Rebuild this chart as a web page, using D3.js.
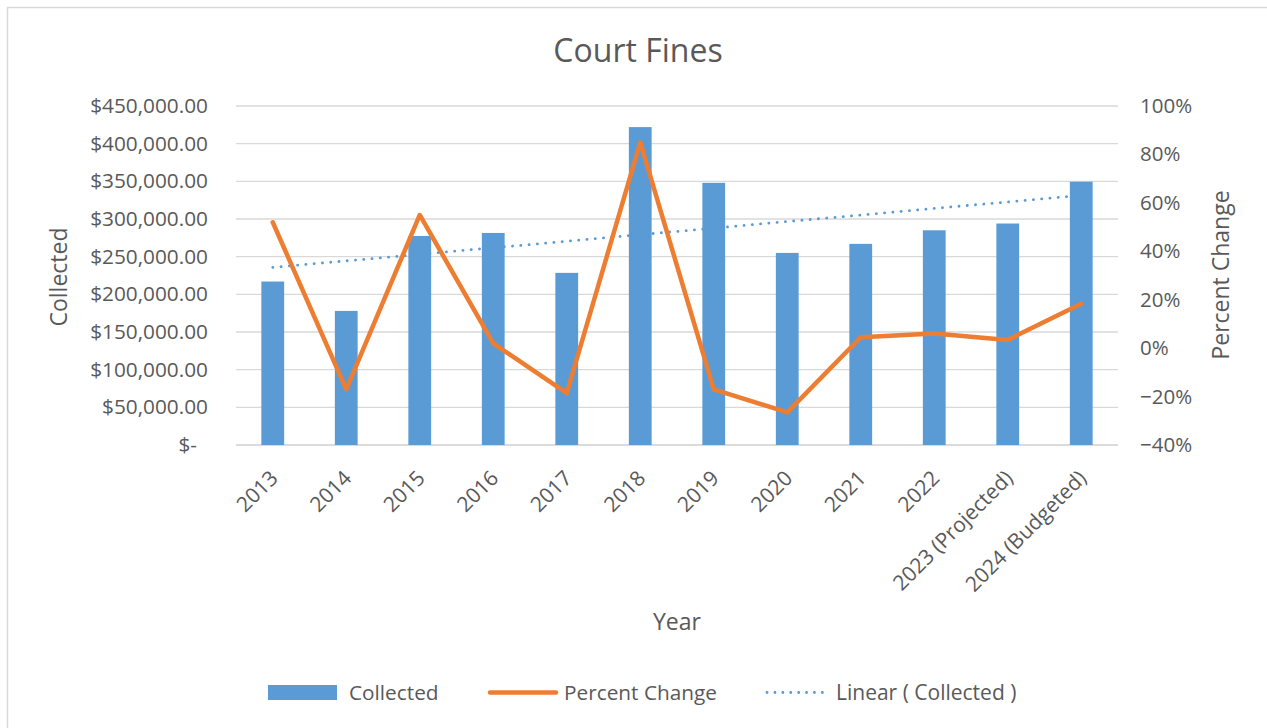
<!DOCTYPE html>
<html>
<head>
<meta charset="utf-8">
<script src="https://cdn.jsdelivr.net/npm/d3@7"></script>
<style>
  html, body { margin: 0; padding: 0; background: #fff; }
  svg text { font-family: "Open Sans", "Noto Sans", sans-serif; fill: #595959; }
</style>
</head>
<body>
<svg id="chart" width="1267" height="728"></svg>
<script>
const categories = ["2013","2014","2015","2016","2017","2018","2019","2020","2021","2022","2023 (Projected)","2024 (Budgeted)"];
const collected = [217000, 178000, 277500, 281500, 228500, 422000, 348000, 255000, 267000, 285000, 294000, 349500];
const percentChange = [0.52, -0.17, 0.55, 0.02, -0.186, 0.85, -0.17, -0.265, 0.045, 0.06, 0.034, 0.183];
const leftTicks = [0, 50000, 100000, 150000, 200000, 250000, 300000, 350000, 400000, 450000];
const rightTicks = [-0.4, -0.2, 0, 0.2, 0.4, 0.6, 0.8, 1.0];
const legendLabels = ["Collected", "Percent Change", "Linear ( Collected )"];

const svg = d3.select("#chart");
const W = 1267, H = 728;
const m = { left: 236, right: 1118, top: 106, bottom: 445 };
const blue = "#5B9BD5", orange = "#ED7D31", grid = "#D9D9D9";

// chart border
svg.append("rect").attr("x", 7.5).attr("y", 7.5).attr("width", W + 10).attr("height", H + 10)
  .attr("fill", "#fff").attr("stroke", grid).attr("stroke-width", 1.5);

const x = d3.scaleBand().domain(categories).range([m.left, m.right]).paddingInner(0.69).paddingOuter(0.345);
const xc = d => x(d) + x.bandwidth() / 2;
const yL = d3.scaleLinear().domain([0, 450000]).range([m.bottom, m.top]);
const yR = d3.scaleLinear().domain([-0.4, 1.0]).range([m.bottom, m.top]);

// gridlines
svg.append("g").selectAll("line").data(leftTicks).join("line")
  .attr("x1", m.left).attr("x2", m.right)
  .attr("y1", d => yL(d)).attr("y2", d => yL(d))
  .attr("stroke", grid).attr("stroke-width", 1.3);

// left axis
const fmtMoney = d => d === 0 ? "$-" : "$" + d3.format(",.2f")(d);
const gL = svg.append("g").attr("transform", `translate(${m.left},0)`)
  .call(d3.axisLeft(yL).tickValues(leftTicks).tickFormat(fmtMoney).tickSize(0).tickPadding(28));
gL.select(".domain").remove();
gL.selectAll("text").style("font-size", "20.8px").attr("fill", "#595959")
  .attr("dx", d => d === 0 ? -11 : 0);

// right axis
const gR = svg.append("g").attr("transform", `translate(${m.right},0)`)
  .call(d3.axisRight(yR).tickValues(rightTicks).tickFormat(d3.format(".0%")).tickSize(0).tickPadding(22));
gR.select(".domain").remove();
gR.selectAll("text").style("font-size", "20.5px").attr("fill", "#595959");

// x axis line
svg.append("line").attr("x1", m.left).attr("x2", m.right).attr("y1", m.bottom).attr("y2", m.bottom)
  .attr("stroke", grid).attr("stroke-width", 1.3);

// x labels
svg.append("g").selectAll("text").data(categories).join("text")
  .attr("transform", d => `translate(${xc(d) - 4},${m.bottom + 24}) rotate(-45)`)
  .attr("text-anchor", "end").attr("dy", "0.7em")
  .style("font-size", "21px").text(d => d);

// bars
svg.append("g").selectAll("rect").data(categories).join("rect")
  .attr("x", d => x(d)).attr("width", x.bandwidth())
  .attr("y", (d, i) => yL(collected[i]))
  .attr("height", (d, i) => yL(0) - yL(collected[i]))
  .attr("fill", blue);

// linear trendline (least squares on collected)
const n = collected.length;
const xs = d3.range(n);
const mx = d3.mean(xs), my = d3.mean(collected);
const slope = d3.sum(xs, i => (i - mx) * (collected[i] - my)) / d3.sum(xs, i => (i - mx) ** 2);
const intercept = my - slope * mx;
svg.append("line")
  .attr("x1", xc(categories[0])).attr("x2", xc(categories[n - 1]))
  .attr("y1", yL(intercept)).attr("y2", yL(intercept + slope * (n - 1)))
  .attr("stroke", blue).attr("stroke-width", 2.8)
  .attr("stroke-linecap", "round").attr("stroke-dasharray", "0.1 8.2");

// percent change line
const line = d3.line().x((d, i) => xc(categories[i])).y(d => yR(d));
svg.append("path").datum(percentChange).attr("d", line)
  .attr("fill", "none").attr("stroke", orange).attr("stroke-width", 4.5)
  .attr("stroke-linecap", "round").attr("stroke-linejoin", "round");

// title
svg.append("text").attr("x", 638).attr("y", 62).attr("text-anchor", "middle")
  .style("font-size", "32px").text("Court Fines");

// axis titles
svg.append("text").attr("transform", "translate(67,277) rotate(-90)").attr("text-anchor", "middle")
  .style("font-size", "23px").text("Collected");
svg.append("text").attr("transform", "translate(1229,275) rotate(-90)").attr("text-anchor", "middle")
  .style("font-size", "23px").text("Percent Change");
svg.append("text").attr("x", 677).attr("y", 630).attr("text-anchor", "middle")
  .style("font-size", "23px").text("Year");

// legend
const lg = svg.append("g");
lg.append("rect").attr("x", 268).attr("y", 685).attr("width", 69).attr("height", 15).attr("fill", blue);
lg.append("text").attr("x", 349).attr("y", 700).style("font-size", "20.8px").text(legendLabels[0]);
lg.append("line").attr("x1", 490).attr("x2", 556).attr("y1", 692.5).attr("y2", 692.5)
  .attr("stroke", orange).attr("stroke-width", 4.5).attr("stroke-linecap", "round");
lg.append("text").attr("x", 564).attr("y", 700).style("font-size", "20.8px").text(legendLabels[1]);
lg.append("line").attr("x1", 767).attr("x2", 830).attr("y1", 692.5).attr("y2", 692.5)
  .attr("stroke", blue).attr("stroke-width", 2.8).attr("stroke-linecap", "round").attr("stroke-dasharray", "0.1 7.8");
lg.append("text").attr("x", 836).attr("y", 700).style("font-size", "21px").text(legendLabels[2]);
</script>
</body>
</html>
